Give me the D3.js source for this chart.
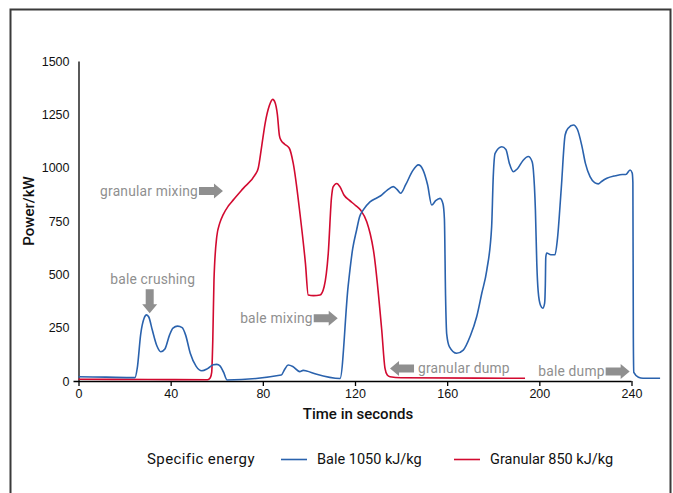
<!DOCTYPE html>
<html>
<head>
<meta charset="utf-8">
<script src="https://cdn.jsdelivr.net/npm/d3@7"></script>
<style>
  html, body { margin: 0; padding: 0; background: #fff; }
  svg { display: block; font-family: "Roboto", "Inter", sans-serif; }
</style>
</head>
<body>
<svg id="chart" width="673" height="493"></svg>
<script>
// ---- data ----
const xTicks = [0, 40, 80, 120, 160, 200, 240];
const yTicks = [0, 250, 500, 750, 1000, 1250, 1500];

const baleSeries = [
  [0,20],[12,18],[24.5,16],[25.5,60],[27,220],[28.5,295],[29.5,310],[30.5,300],[32,240],[34,165],
  [35.7,137],[37.5,150],[39.5,215],[41,248],[43,257],[45,250],[46.5,215],[48.5,130],[51,70],[53.5,48],
  [56,58],[58.5,76],[60,78],[61.5,70],[63,40],[64.5,5],[88,28],[89.5,55],[91,75],[93,68],[96,44],
  [97.5,50],[99,47],[103,33],[113.5,12],[117,442],[119,620],[120.7,708],[122,770],[123.6,802],
  [126.5,840],[129.4,858],[131,867],[134,895],[136.6,911],[138.5,895],[139.8,880],[142,920],[145,985],
  [147.5,1013],[149.5,990],[151.5,920],[153.3,825],[155,845],[156.9,856],[158.2,830],[158.8,760],
  [159.3,400],[159.8,220],[161,160],[164.1,130],[167,145],[170,210],[172.8,301],[175,410],[177.2,520],
  [179.3,723],[180,958],[180.8,1067],[183.7,1098],[185.5,1085],[187,1020],[188.7,981],[190.5,995],
  [193,1035],[195.2,1052],[196.8,1030],[197.4,989],[198.3,800],[198.9,550],[199.5,420],[200.5,355],
  [201.5,341],[202.3,365],[202.6,450],[202.8,580],[203.2,600],[205,592],[206.8,592],[207.8,660],
  [209.5,900],[211.2,1153],[212.5,1185],[214.8,1200],[216.5,1180],[218.5,1100],[220,1020],[222,958],
  [224,930],[225.6,924],[227,935],[229.3,950],[233,962],[236,968],[237.5,968],[239.4,989],[240.3,975],
  [240.6,930],[240.8,200],[241,40],[243,18],[245,13],[252.4,13]
];

const granularSeries = [
  [0,8],[30,7],[56,6],[57.2,15],[57.8,40],[58.3,200],[58.8,473],[60,676],[61.3,740],[62.8,780],
  [65,820],[67.2,849],[71.5,903],[76.6,966],[78,997],[79.5,1100],[81,1208],[82.8,1290],[84.3,1320],
  [85.3,1305],[86.3,1250],[87.2,1150],[87.8,1130],[89.5,1110],[91.5,1091],[93.2,1020],[96.1,786],
  [98.5,550],[99.7,403],[102,400],[104.8,403],[106.6,442],[108.4,599],[109.8,860],[110.5,910],
  [112.1,926],[113.5,910],[115.2,872],[117.5,848],[120,825],[122.5,800],[125.1,747],[126.6,690],
  [128,614],[131.6,239],[133,60],[134,28],[135.2,20],[140,15],[193.8,13]
];

const seriesNames = ["Bale 1050 kJ/kg", "Granular 850 kJ/kg"];
const legendTitle = "Specific energy";
const xTitle = "Time in seconds";
const yTitle = "Power/kW";

// annotations: arrow tip in data coordinates
const annotations = [
  { text: "granular mixing", t: 62.7, v: 891, dir: "right" },
  { text: "bale crushing",   t: 30.9, v: 317, dir: "down" },
  { text: "bale mixing",     t: 112.5, v: 294, dir: "right" },
  { text: "granular dump",   t: 135.2, v: 59, dir: "left" },
  { text: "bale dump",       t: 239.2, v: 45, dir: "right" }
];

// ---- drawing ----
const svg = d3.select("#chart");
const x = d3.scaleLinear().domain([0, 240]).range([78.5, 631.5]);
const y = d3.scaleLinear().domain([0, 1500]).range([381, 61]);

const blue = "#2a62ad", red = "#d20a30", gray = "#8f8f8f";

// frame
svg.append("path")
  .attr("d", "M10.5,500 L10.5,9.5 L670.5,9.5 L670.5,500")
  .attr("fill", "none").attr("stroke", "#3a3a3a").attr("stroke-width", 2);

// y axis
const yAxis = d3.axisLeft(y).tickValues(yTicks).tickFormat(d3.format("d")).tickSize(0).tickPadding(9);
const gy = svg.append("g").attr("transform", "translate(78.5,0)").call(yAxis);
gy.select(".domain").attr("stroke", "#000").attr("stroke-width", 1.3);
gy.selectAll("text").attr("font-size", 12.5).attr("fill", "#111");

// x axis
const xAxis = d3.axisBottom(x).tickValues(xTicks).tickFormat(d3.format("d")).tickSize(5).tickSizeOuter(0).tickPadding(3);
const gx = svg.append("g").attr("transform", "translate(0,381)").call(xAxis);
gx.select(".domain").attr("stroke", "#000").attr("stroke-width", 1.3)
  .attr("d", `M${x(0) - 5},0.5H${x(240)}`);
gx.selectAll(".tick line").attr("stroke", "#000").attr("stroke-width", 1.3);
gx.selectAll("text").attr("font-size", 12.5).attr("fill", "#111");

// axis titles
svg.append("text").attr("x", 358).attr("y", 419).attr("text-anchor", "middle")
  .attr("font-size", 15).attr("font-weight", 500).attr("fill", "#111").text(xTitle);
svg.append("text").attr("transform", "translate(34,211) rotate(-90)").attr("text-anchor", "middle")
  .attr("font-size", 15).attr("font-weight", 500).attr("fill", "#111").text(yTitle);

// lines
const line = d3.line().x(d => x(d[0])).y(d => y(d[1])).curve(d3.curveMonotoneX);
svg.append("path").datum(granularSeries).attr("d", line)
  .attr("fill", "none").attr("stroke", red).attr("stroke-width", 1.6);
svg.append("path").datum(baleSeries).attr("d", line)
  .attr("fill", "none").attr("stroke", blue).attr("stroke-width", 1.6);

// annotations
function arrowPath(tx, ty, dir) {
  const bl = 15, hl = 9, bw = 4, hw = 7.5;
  if (dir === "right")
    return `M${tx},${ty} L${tx-hl},${ty-hw} L${tx-hl},${ty-bw} L${tx-hl-bl},${ty-bw} L${tx-hl-bl},${ty+bw} L${tx-hl},${ty+bw} L${tx-hl},${ty+hw} Z`;
  if (dir === "left")
    return `M${tx},${ty} L${tx+hl},${ty-hw} L${tx+hl},${ty-bw} L${tx+hl+bl},${ty-bw} L${tx+hl+bl},${ty+bw} L${tx+hl},${ty+bw} L${tx+hl},${ty+hw} Z`;
  return `M${tx},${ty} L${tx-hw},${ty-hl} L${tx-bw},${ty-hl} L${tx-bw},${ty-hl-bl} L${tx+bw},${ty-hl-bl} L${tx+bw},${ty-hl} L${tx+hw},${ty-hl} Z`;
}
const ga = svg.append("g");
annotations.forEach(a => {
  const tx = x(a.t), ty = y(a.v);
  ga.append("path").attr("d", arrowPath(tx, ty, a.dir)).attr("fill", gray);
  const t = ga.append("text").attr("font-size", 13.8).attr("letter-spacing", 0.2).attr("fill", gray).text(a.text);
  if (a.dir === "right") t.attr("x", tx - 25).attr("y", ty + 4.8).attr("text-anchor", "end");
  else if (a.dir === "left") t.attr("x", tx + 28).attr("y", ty + 4.8).attr("text-anchor", "start");
  else t.attr("x", tx + 3).attr("y", ty - 29).attr("text-anchor", "middle");
});

// legend
const lg = svg.append("g");
lg.append("text").attr("x", 147).attr("y", 464).attr("font-size", 15).attr("letter-spacing", 0.4).attr("fill", "#111").text(legendTitle);
const legendItems = [
  { name: seriesNames[0], color: blue, x0: 281 },
  { name: seriesNames[1], color: red, x0: 454 }
];
legendItems.forEach(it => {
  lg.append("line").attr("x1", it.x0).attr("x2", it.x0 + 26).attr("y1", 459.5).attr("y2", 459.5)
    .attr("stroke", it.color).attr("stroke-width", 1.6);
  lg.append("text").attr("x", it.x0 + 36).attr("y", 464).attr("font-size", 14.5).attr("fill", "#111").text(it.name);
});
</script>
</body>
</html>
